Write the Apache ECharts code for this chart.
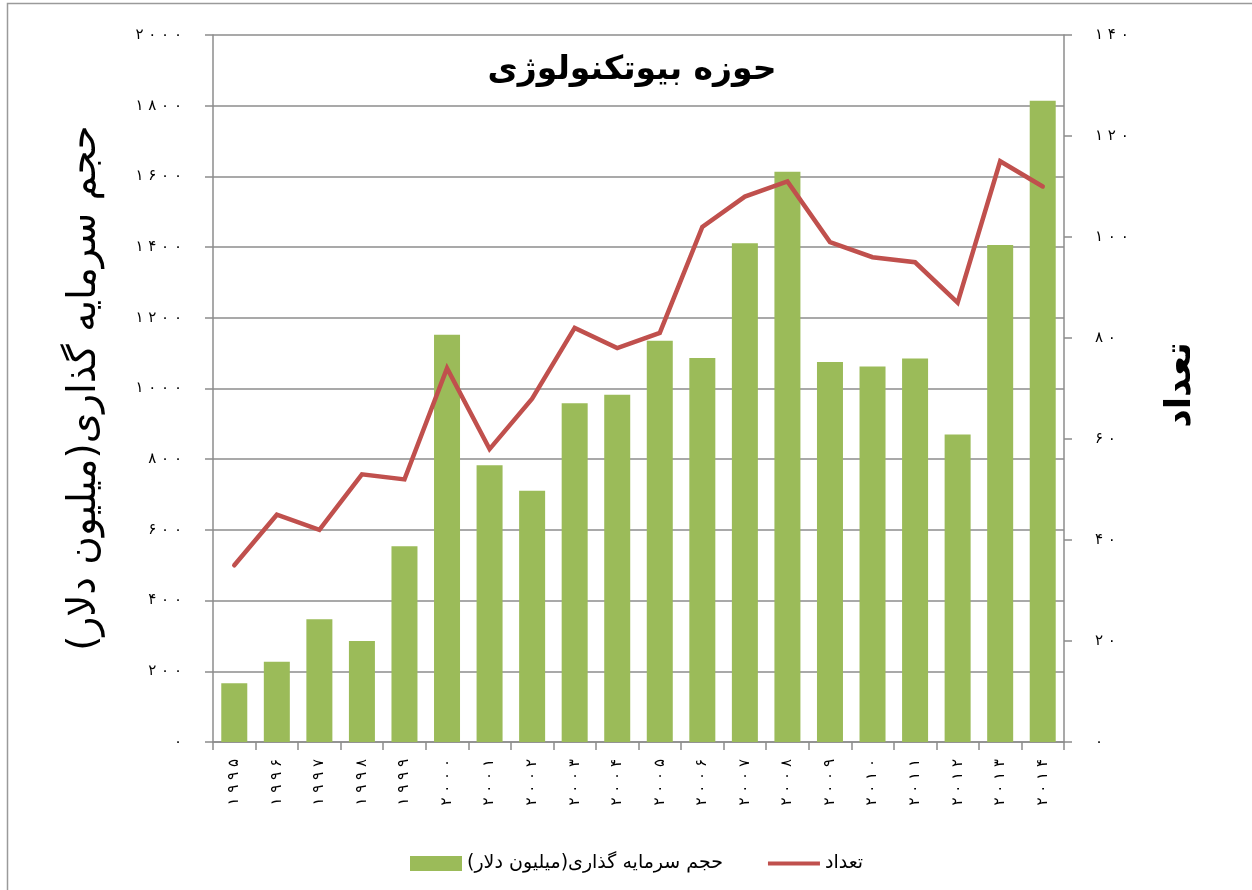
<!DOCTYPE html>
<html><head><meta charset="utf-8">
<script src="https://cdn.jsdelivr.net/npm/echarts@6/dist/echarts.min.js"></script>
<style>html,body{margin:0;padding:0;background:#fff}#c{width:1252px;height:890px}</style>
</head><body><div id="c"></div>
<script>
const years = [1995,1996,1997,1998,1999,2000,2001,2002,2003,2004,2005,2006,2007,2008,2009,2010,2011,2012,2013,2014];
const investment = [166,227,347,286,554,1152,783,711,958,982,1135,1086,1411,1613,1075,1062,1085,870,1406,1814];
const counts = [35,45,42,53,52,74,58,68,82,78,81,102,108,111,99,96,95,87,115,110];
const leftTicks = {min:0, max:2000, interval:200};
const rightTicks = {min:0, max:140, interval:20};
const titleText = 'حوزه بیوتکنولوژی';
const barName = 'حجم سرمایه گذاری(میلیون دلار)';
const lineName = 'تعداد';
const leftAxisTitle = 'حجم سرمایه گذاری(میلیون دلار)';
const rightAxisTitle = 'تعداد';

const fa = '۰۱۲۳۴۵۶۷۸۹';
function toFa(v){ return String(v).split('').map(ch => fa[+ch] ?? ch).join(' '); }

const FONT = '"DejaVu Sans", sans-serif';
const chart = echarts.init(document.getElementById('c'));
chart.setOption({
  animation:false,
  backgroundColor:'#fff',
  textStyle:{fontFamily:FONT},
  grid:{left:213, right:188, top:35, bottom:148},
  legend:{
    left:405, top:849, itemWidth:52, itemHeight:15, itemGap:45,
    textStyle:{fontSize:19, color:'#000', fontFamily:FONT},
    data:[{name:barName, icon:'rect'}, {name:lineName, icon:'path://M0,0 H52 V4 H0 Z'}]
  },
  xAxis:{
    type:'category', data:years,
    axisLine:{lineStyle:{color:'#8c8c8c', width:1.5}},
    axisTick:{show:true, length:8, lineStyle:{color:'#8c8c8c', width:1.5}, alignWithLabel:false},
    axisLabel:{rotate:90, margin:17, fontSize:15, color:'#000', formatter:v=>toFa(v), fontFamily:FONT}
  },
  yAxis:[{
    type:'value', min:leftTicks.min, max:leftTicks.max, interval:leftTicks.interval,
    axisLine:{show:true, lineStyle:{color:'#8c8c8c', width:1.5}},
    axisTick:{show:true, length:8, lineStyle:{color:'#8c8c8c', width:1.5}},
    axisLabel:{margin:31, fontSize:15, color:'#000', formatter:v=>toFa(v), fontFamily:FONT},
    splitLine:{show:true, lineStyle:{color:'#8c8c8c', width:1.5}}
  },{
    type:'value', min:rightTicks.min, max:rightTicks.max, interval:rightTicks.interval,
    axisLine:{show:true, lineStyle:{color:'#8c8c8c', width:1.5}},
    axisTick:{show:true, length:8, lineStyle:{color:'#8c8c8c', width:1.5}},
    axisLabel:{margin:31, fontSize:15, color:'#000', formatter:v=>toFa(v), fontFamily:FONT, align:'left'},
    splitLine:{show:false}
  }],
  series:[{
    name:barName, type:'bar', data:investment, barWidth:26,
    itemStyle:{color:'#9BBB59'}, z:2
  },{
    name:lineName, type:'line', yAxisIndex:1, data:counts,
    symbol:'none', lineStyle:{color:'#C0504D', width:4.5, cap:'round', join:'miter'},
    itemStyle:{color:'#C0504D'}, z:3
  }],
  graphic:[
    {type:'rect', shape:{x:7.5, y:3.5, width:1300, height:1000}, style:{fill:null, stroke:'#9a9a9a', lineWidth:1.5}, silent:true},
    {type:'text', x:632, y:70, style:{text:titleText, font:'bold 33px '+FONT, fill:'#000', align:'center', verticalAlign:'middle'}},
    {type:'text', x:85, y:388, rotation:Math.PI/2, style:{text:leftAxisTitle, font:'39px '+FONT, fill:'#000', align:'center', verticalAlign:'middle'}},
    {type:'text', x:1181, y:385, rotation:Math.PI/2, style:{text:rightAxisTitle, font:'bold 36px '+FONT, fill:'#000', align:'center', verticalAlign:'middle'}}
  ]
});
</script></body></html>
